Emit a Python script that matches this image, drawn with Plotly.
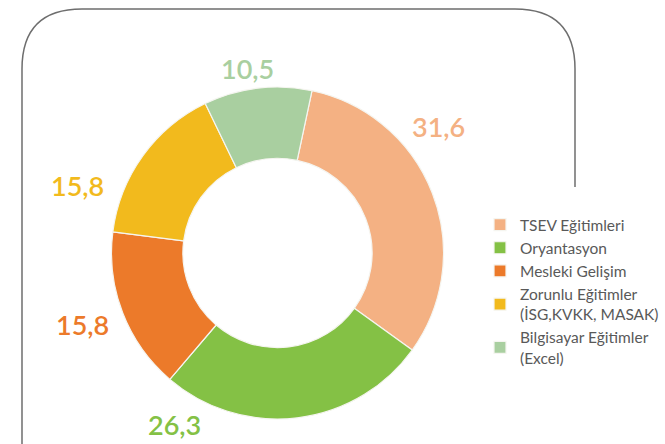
import plotly.graph_objects as go

labels = ["TSEV Eğitimleri", "Oryantasyon", "Mesleki Gelişim",
          "Zorunlu Eğitimler<br>(İSG,KVKK, MASAK)", "Bilgisayar Eğitimler<br>(Excel)"]
values = [31.6, 26.3, 15.8, 15.8, 10.5]
colors = ["#F4B183", "#84C145", "#EC7A2A", "#F2BA1D", "#A9CFA0"]

W, H = 665, 444

# data-label placement (pixel centres, as laid out in the original)
label_pos = [(438, 126), (174, 424), (82, 324), (77, 186), (247, 68)]

def px(x, y):
    return f"{x / W:.5f},{1 - y / H:.5f}"

# rounded frame (decoration)
r = 60
left, top, right, bot_right = 22, 9, 575, 187
path = (f"M {px(left, H + 2)} L {px(left, top + r)} "
        f"Q {px(left, top)} {px(left + r, top)} "
        f"L {px(right - r, top)} "
        f"Q {px(right, top)} {px(right, top + r)} "
        f"L {px(right, bot_right)}")

cx, cy, R = 277.5, 253, 166
fig = go.Figure(go.Pie(
    labels=labels,
    values=values,
    marker=dict(colors=colors, line=dict(color="#F5F5F0", width=1.2)),
    hole=0.57,
    sort=False,
    direction="clockwise",
    rotation=12,
    textinfo="none",
    domain=dict(x=[(cx - R) / W, (cx + R) / W], y=[1 - (cy + R) / H, 1 - (cy - R) / H]),
))

annotations = []
for v, c, (lx, ly) in zip(values, colors, label_pos):
    annotations.append(dict(
        text=f"{v:.1f}".replace(".", ","),
        x=lx / W, y=1 - ly / H, xref="paper", yref="paper",
        xanchor="center", yanchor="middle", showarrow=False,
        font=dict(family="Lato", size=27, color=c, weight=600),
    ))

fig.update_layout(
    width=W, height=H,
    margin=dict(l=0, r=0, t=0, b=0),
    paper_bgcolor="white",
    plot_bgcolor="white",
    separators=", ",
    showlegend=True,
    legend=dict(
        x=480 / W, y=1 - 208 / H, xanchor="left", yanchor="top",
        font=dict(family="Lato", size=15.5, color="#595959"),
        bgcolor="rgba(0,0,0,0)",
        itemwidth=30,
    ),
    annotations=annotations,
    shapes=[dict(type="path", path=path, xref="paper", yref="paper",
                 line=dict(color="#6E6E6E", width=1.5), layer="below")],
)

fig.write_html("out.html", config={"displayModeBar": False},
               post_script="document.body.style.margin='0';")
